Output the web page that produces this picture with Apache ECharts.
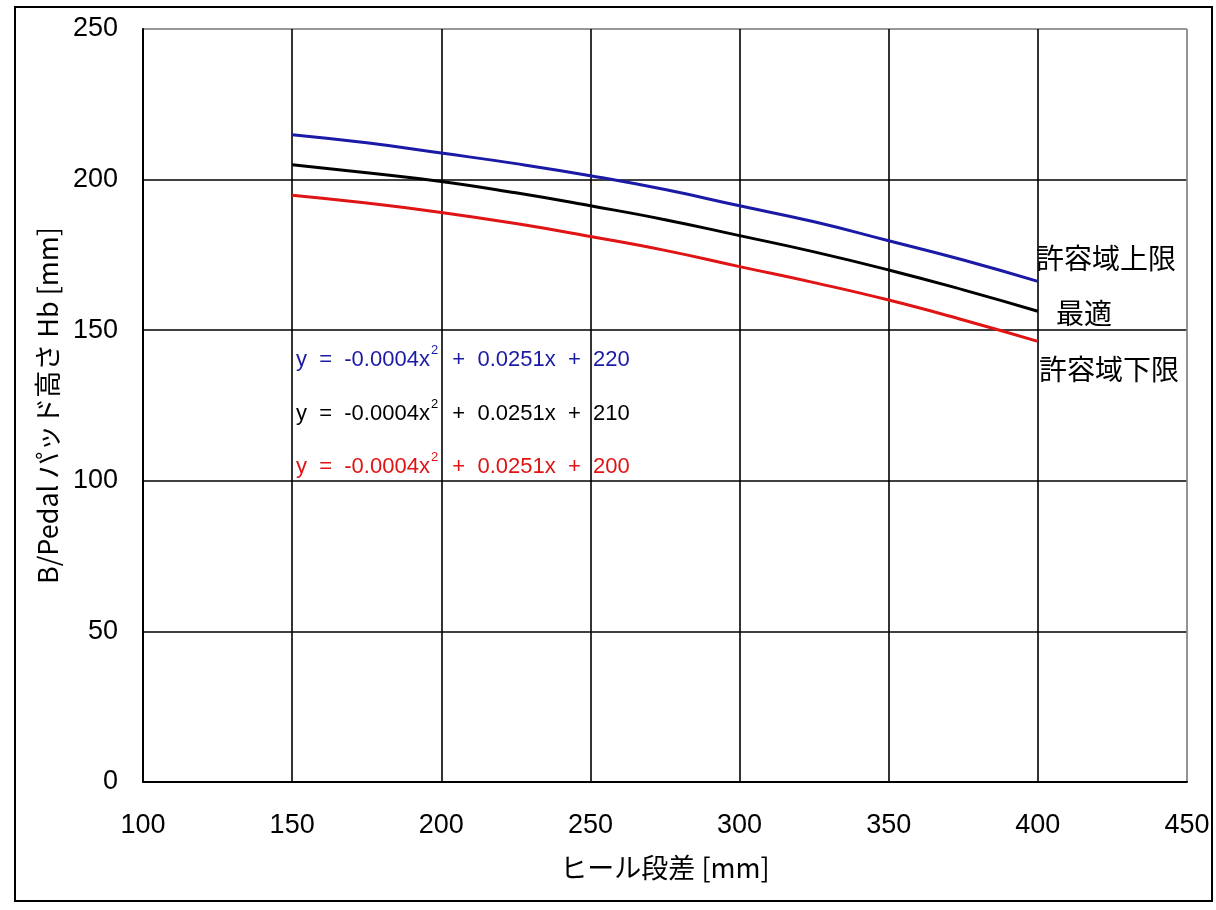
<!DOCTYPE html>
<html>
<head>
<meta charset="utf-8">
<script src="https://cdn.jsdelivr.net/npm/echarts@6/dist/echarts.min.js"></script>
<style>html,body{margin:0;padding:0;background:#fff}#c{width:1216px;height:910px}</style>
</head>
<body>
<div id="c"></div>
<script>
// Heel step [mm] sample points (x)
var heelStep = [150, 175, 200, 225, 250, 275, 300, 325, 350, 375, 400];
// Values
var upperLimit = [214.9, 212.2, 208.8, 205.3, 201.3, 196.7, 191.3, 186.0, 179.7, 173.3, 166.2];
var optimum    = [204.9, 202.3, 199.4, 195.6, 191.3, 186.7, 181.4, 176.0, 170.0, 163.4, 156.3];
var lowerLimit = [194.8, 192.2, 189.1, 185.4, 181.1, 176.5, 171.1, 165.8, 160.0, 153.4, 146.3];
var seriesNames = ['許容域上限', '最適', '許容域下限'];
var equations = [
  ['y  =  -0.0004x', '2', '  +  0.0251x  +  220'],
  ['y  =  -0.0004x', '2', '  +  0.0251x  +  210'],
  ['y  =  -0.0004x', '2', '  +  0.0251x  +  200']
];
var xTicks = [100, 450, 50];
var yTicks = [0, 250, 50];

var colors = ['#1a1aa6', '#000000', '#e01414'];
var FONT = '"Liberation Sans", Arial, sans-serif';
var JFONT = '"Noto Sans CJK JP", "Liberation Sans", sans-serif';

function pairs(xs, ys) { return xs.map(function (x, i) { return [x, ys[i]]; }); }

var chart = echarts.init(document.getElementById('c'), null, {renderer: 'canvas'});
var data = [upperLimit, optimum, lowerLimit];

var eqY = [357, 411, 464];
var labelPos = [[1036, 262], [1056, 317], [1039, 373]];
var graphics = [{
  type: 'rect', shape: {x: 15, y: 7, width: 1197, height: 894},
  style: {fill: null, stroke: '#000', lineWidth: 2}, silent: true
}];
equations.forEach(function (eq, i) {
  graphics.push({
    type: 'text', left: 296, top: eqY[i] - 13,
    style: {
      text: '{a|' + eq[0] + '}{s|' + eq[1] + '}{a|' + eq[2] + '}',
      rich: {
        a: {fontFamily: FONT, fontSize: 22, fill: colors[i], verticalAlign: 'bottom', lineHeight: 27},
        s: {fontFamily: FONT, fontSize: 13, fill: colors[i], verticalAlign: 'top', lineHeight: 27, padding: [0, 2, 0, 1]}
      }
    }
  });
});
seriesNames.forEach(function (n, i) {
  graphics.push({
    type: 'text', left: labelPos[i][0], top: labelPos[i][1] - 18,
    style: {text: n, fontFamily: JFONT, fontSize: 28, fill: '#000'}
  });
});

var grayLast = function (n) { var a = []; for (var i = 0; i < n - 1; i++) a.push('#000'); a.push('#888'); return a; };

chart.setOption({
  backgroundColor: '#ffffff',
  animation: false,
  grid: {left: 143, right: 29, top: 29, bottom: 128, show: true, borderColor: '#888', borderWidth: 1},
  xAxis: {
    type: 'value', min: xTicks[0], max: xTicks[1], interval: xTicks[2],
    name: 'ヒール段差 [mm]', nameLocation: 'middle', nameGap: 72,
    nameTextStyle: {fontFamily: JFONT, fontSize: 27, color: '#000'},
    axisLine: {show: true, lineStyle: {color: '#000', width: 2}},
    axisTick: {show: false},
    axisLabel: {fontFamily: FONT, fontSize: 27, color: '#000', margin: 30},
    splitLine: {show: true, lineStyle: {color: grayLast(8), width: 1.6}}
  },
  yAxis: {
    type: 'value', min: yTicks[0], max: yTicks[1], interval: yTicks[2],
    name: 'B/Pedal パッド高さ Hb [mm]', nameLocation: 'middle', nameGap: 82,
    nameTextStyle: {fontFamily: JFONT, fontSize: 27, color: '#000'},
    axisLine: {show: true, lineStyle: {color: '#000', width: 2}},
    axisTick: {show: false},
    axisLabel: {fontFamily: FONT, fontSize: 27, color: '#000', margin: 25},
    splitLine: {show: true, lineStyle: {color: grayLast(6), width: 1.6}}
  },
  series: data.map(function (d, i) {
    return {
      name: seriesNames[i], type: 'line', smooth: true, showSymbol: false,
      data: pairs(heelStep, d),
      lineStyle: {color: colors[i], width: 3}, itemStyle: {color: colors[i]}, z: 5
    };
  }),
  graphic: graphics
});
</script>
</body>
</html>
